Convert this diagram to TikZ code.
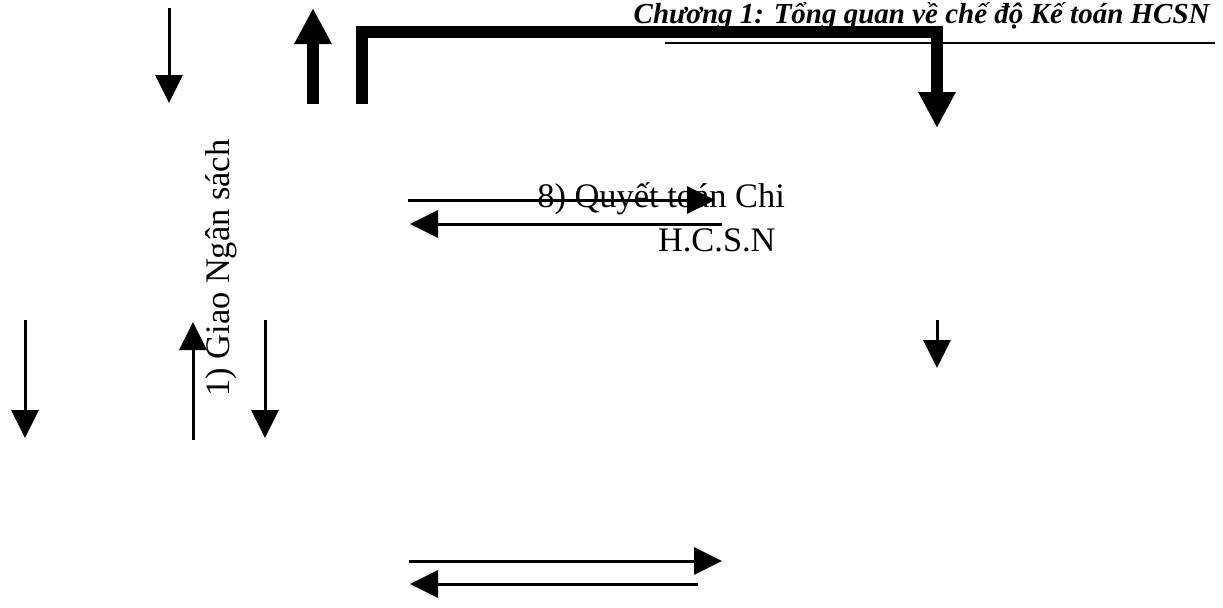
\documentclass[tikz,border=0pt]{standalone}
\usepackage{fontspec}
\setmainfont{Liberation Serif}
\usetikzlibrary{arrows.meta}

\begin{document}
\begin{tikzpicture}[x=0.5pt,y=-0.5pt,
  flow/.style={line width=1.5pt,-{Triangle[length=14pt,width=13.5pt]}},
  bigflow/.style={line width=6pt,line join=miter,-{Triangle[length=18pt,width=17.5pt]}},
  txt/.style={inner sep=0pt,font=\fontsize{17.2}{20}\selectfont}]
\useasboundingbox (0,0) rectangle (1223,607);
\tikzstyle{headtxt}=[inner sep=0pt,font=\fontsize{14.5}{17}\selectfont\bfseries\itshape]

\node[headtxt,anchor=base east] (chuong) at (1210,23) {Chương 1: Tổng quan về chế độ Kế toán HCSN};
\coordinate (ulA) at (665,43);
\coordinate (ulB) at (1215,43);
\draw[line width=1pt] (ulA) -- (ulB);

\coordinate (giaoTop) at (169,8);
\coordinate (giaoBot) at (169,103);
\draw[flow] (giaoTop) -- (giaoBot);
\coordinate (baoBot) at (313,104);
\coordinate (baoTop) at (313,8);
\draw[bigflow] (baoBot) -- (baoTop);
\coordinate (khungA) at (362,104);
\coordinate (khungB) at (362,32);
\coordinate (khungC) at (937,32);
\coordinate (khungD) at (937,128);
\draw[bigflow] (khungA) -- (khungB) -- (khungC) -- (khungD);

\node[txt,rotate=90,anchor=base west] (giao) at (229,397) {1) Giao Ngân sách};
\node[txt,anchor=base west] (quyettoan) at (537,207) {8) Quyết toán Chi};
\node[txt,anchor=base east] (hcsn) at (776,251) {H.C.S.N};

\coordinate (qtA) at (408,200);
\coordinate (qtB) at (715,200);
\draw[flow] (qtA) -- (qtB);
\coordinate (qtC) at (722,224);
\coordinate (qtD) at (410,224);
\draw[flow] (qtC) -- (qtD);

\coordinate (duoiA) at (409,561);
\coordinate (duoiB) at (722,561);
\draw[flow] (duoiA) -- (duoiB);
\coordinate (duoiC) at (698,584);
\coordinate (duoiD) at (410,584);
\draw[flow] (duoiC) -- (duoiD);

\coordinate (phaiA) at (937,320);
\coordinate (phaiB) at (937,368);
\draw[flow] (phaiA) -- (phaiB);

\coordinate (traiA) at (25,320);
\coordinate (traiB) at (25,438);
\draw[flow] (traiA) -- (traiB);
\coordinate (giuaA) at (193,440);
\coordinate (giuaB) at (193,322);
\draw[flow] (giuaA) -- (giuaB);
\coordinate (sauA) at (265,320);
\coordinate (sauB) at (265,438);
\draw[flow] (sauA) -- (sauB);
\end{tikzpicture}
\end{document}
